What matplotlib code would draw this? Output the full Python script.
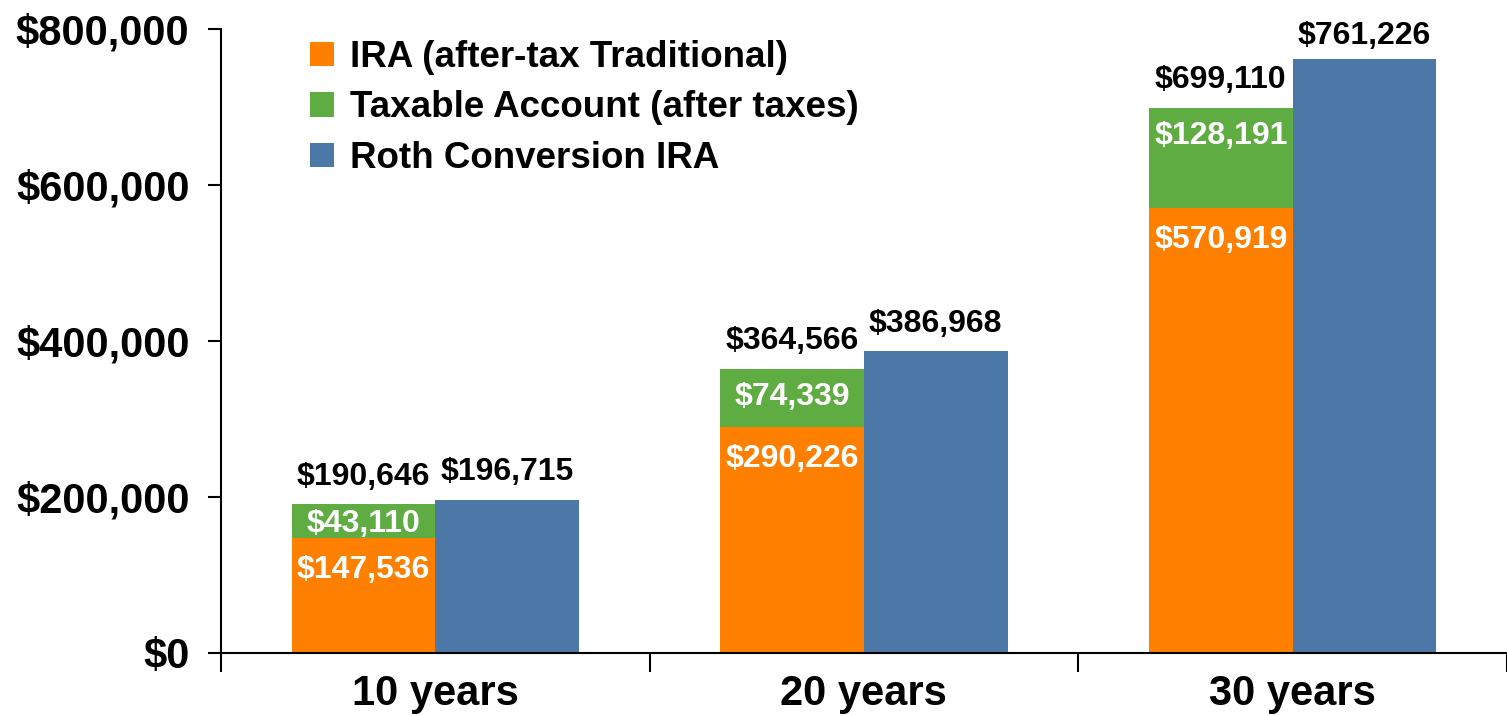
import matplotlib
matplotlib.use('Agg')
import matplotlib.pyplot as plt
from matplotlib.ticker import FuncFormatter
import numpy as np

# values
years = ['10 years', '20 years', '30 years']
ira_after_tax = [147536, 290226, 570919]
taxable_after_tax = [43110, 74339, 128191]
stack_totals = [190646, 364566, 699110]
roth_ira = [196715, 386968, 761226]

orange = '#FF7F00'
green = '#5EAC42'
blue = '#4C78A8'

plt.rcParams['font.family'] = ['Liberation Sans', 'DejaVu Sans']
plt.rcParams['font.weight'] = 'bold'

fig = plt.figure(figsize=(15.07, 7.16), dpi=100)
ax = fig.add_axes([0.1465, 0.088, 0.8535, 0.8715])

x = np.arange(len(years))
w = 0.335

ax.bar(x - w/2, ira_after_tax, w, color=orange, label='IRA (after-tax Traditional)')
ax.bar(x - w/2, taxable_after_tax, w, bottom=ira_after_tax, color=green,
       label='Taxable Account (after taxes)')
ax.bar(x + w/2, roth_ira, w, color=blue, label='Roth Conversion IRA')

ax.set_xlim(-0.5, 2.5)
ax.set_ylim(0, 800000)

# data units -> points, for placing labels inside the bars
pts_per_unit = fig.get_figheight() * 0.8715 * 72 / 800000

def money(v):
    return f'${v:,}'

for i in range(len(years)):
    # totals above bars
    ax.annotate(money(stack_totals[i]), (x[i] - w/2, ira_after_tax[i] + taxable_after_tax[i]),
                xytext=(0, 14), textcoords='offset points', ha='center', va='baseline',
                fontsize=23, color='black')
    top_off = 11 if roth_ira[i] > 700000 else 14
    ax.annotate(money(roth_ira[i]), (x[i] + w/2, roth_ira[i]),
                xytext=(0, top_off), textcoords='offset points', ha='center', va='baseline',
                fontsize=23, color='black')
    # inside labels, near the top of each segment
    seg = taxable_after_tax[i] * pts_per_unit
    off = min(26.5, seg / 2 + 7.5)
    ax.annotate(money(taxable_after_tax[i]), (x[i] - w/2, ira_after_tax[i] + taxable_after_tax[i]),
                xytext=(0, -off), textcoords='offset points', ha='center', va='baseline',
                fontsize=23, color='white')
    ax.annotate(money(ira_after_tax[i]), (x[i] - w/2, ira_after_tax[i]),
                xytext=(0, -29), textcoords='offset points', ha='center', va='baseline',
                fontsize=23, color='white')

for s in ['top', 'right']:
    ax.spines[s].set_visible(False)
for s in ['left', 'bottom']:
    ax.spines[s].set_linewidth(1.5)

ax.set_xticks(x, years)
ax.set_xticks([-0.5, 0.5, 1.5, 2.5], minor=True)
ax.tick_params(axis='x', which='major', length=0, pad=15, labelsize=30)
ax.tick_params(axis='x', which='minor', length=14, width=1.5, direction='out')

ax.set_yticks(range(0, 800001, 200000))
ax.yaxis.set_major_formatter(FuncFormatter(lambda v, p: f'${v:,.0f}'))
ax.tick_params(axis='y', length=9.5, width=1.5, pad=13, labelsize=30)

ax.legend(loc='upper left', bbox_to_anchor=(310/1507, 1 - 40/716), bbox_transform=fig.transFigure,
          frameon=False, fontsize=26.5, handlelength=0.66, handleheight=0.66,
          handletextpad=0.44, labelspacing=0.42, borderpad=0, borderaxespad=0)

fig.savefig('out.png', dpi=100)
